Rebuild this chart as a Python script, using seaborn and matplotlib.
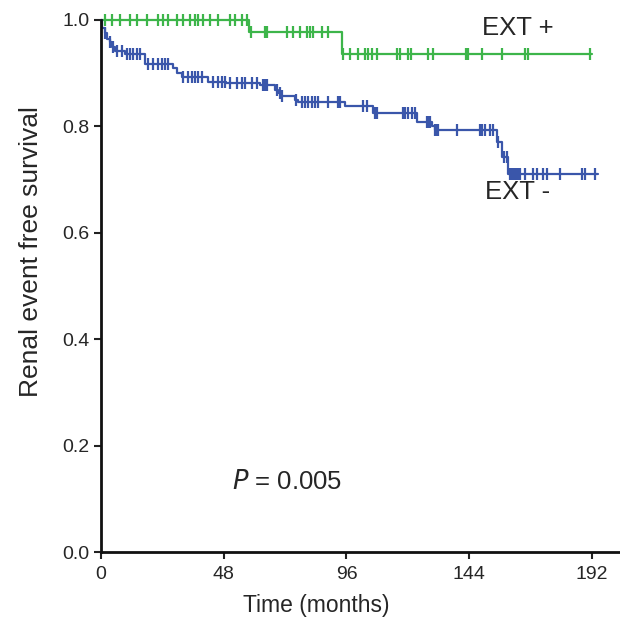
import numpy as np
import pandas as pd
import seaborn as sns
import matplotlib
matplotlib.use("Agg")
import matplotlib.pyplot as plt

# EXT + group: step changes (months, survival) and censored times
ext_pos_step_t = [0, 57.9, 94.1]
ext_pos_step_s = [1.0, 0.977, 0.937]
ext_pos_end = 192
ext_pos_censor = [1.6, 4.2, 7.4, 11.3, 14, 17.9, 22.3, 24.2, 26.2, 29.6, 32, 34.8,
                  36.8, 38, 39.9, 42.6, 45.7, 50.4, 52.4, 55.1, 57.1,
                  58.6, 64.1, 64.8, 72.6, 75.2, 77.8, 80.5, 81.7, 82.8, 86.3, 88.9,
                  94.8, 97.4, 100.6, 103.2, 104.5, 105.8, 107.8, 115.6, 116.9, 120.1,
                  121.1, 128, 129.9, 142.9, 143.6, 148.9, 156.7, 165.8, 167.1, 191.2]

# EXT - group
ext_neg_step_t = [0, 0.5, 1.5, 2.5, 3.5, 4.2, 5.5, 9.4, 17.2, 28.3, 29.6, 31.5, 42.0,
                  49.0, 62.2, 68.0, 69.3, 70.5, 75.9, 77.0, 95.4, 106.5, 123.5, 129.3,
                  130.5, 154.7, 156.7, 159.3]
ext_neg_step_s = [1.0, 0.985, 0.975, 0.965, 0.958, 0.950, 0.942, 0.937, 0.918, 0.910,
                  0.900, 0.893, 0.884, 0.881, 0.877, 0.868, 0.862, 0.858, 0.850, 0.846,
                  0.838, 0.825, 0.809, 0.800, 0.793, 0.771, 0.743, 0.710]
ext_neg_end = 194.5
ext_neg_censor = [1.6, 3.5, 4.8, 6.1, 8.1, 10, 11.3, 12.6, 14, 15.3, 18.5, 20.4, 22.4,
                  23.7, 25, 26.3, 32.2, 34.1, 35.5, 36.8, 38.1, 39.4, 43.9, 45.9, 47.2,
                  48.5, 50.4, 53.1, 55, 56.3, 58.9, 60.9, 63.5, 64.1, 64.8, 68.7, 70,
                  70.7, 76.3, 78.5, 79.8, 81.1, 82.4, 83.7, 85, 88.9, 92.8, 93.5, 102.6,
                  103.9, 107.2, 107.8, 118.2, 118.9, 120.2, 121.5, 122.8, 127.4, 128,
                  128.7, 130.6, 131.3, 131.9, 139.1, 148.2, 148.9, 150.2, 152.1, 153.4,
                  155.2, 157.5, 158.7, 160, 160.6, 161.3, 162, 162.6, 163.3, 163.9,
                  165.8, 169.1, 170.4, 173, 174.3, 179.5, 188, 189.3, 193.2]

x_ticks = [0, 48, 96, 144, 192]
y_ticks = [0.0, 0.2, 0.4, 0.6, 0.8, 1.0]

green = "#3DB54A"
blue = "#3A56AA"

sns.set_style("ticks")
plt.rcParams['font.family'] = ['Liberation Sans', 'DejaVu Sans']

fig = plt.figure(figsize=(6.2, 6.24), dpi=100)
ax = fig.add_axes([0.163, 0.115, 0.837, 0.853])


def curve_frame(step_t, step_s, end):
    t = list(step_t) + [end]
    s = list(step_s) + [step_s[-1]]
    return pd.DataFrame({"t": t, "s": s})


def censor_frame(step_t, step_s, times):
    idx = np.searchsorted(step_t, times, side="right") - 1
    return pd.DataFrame({"t": times, "s": np.asarray(step_s)[idx]})


for st, ss, end, cens, col in [
    (ext_pos_step_t, ext_pos_step_s, ext_pos_end, ext_pos_censor, green),
    (ext_neg_step_t, ext_neg_step_s, ext_neg_end, ext_neg_censor, blue),
]:
    sns.lineplot(data=curve_frame(st, ss, end), x="t", y="s", estimator=None,
                 sort=False, drawstyle="steps-post", color=col, linewidth=1.6,
                 ax=ax, clip_on=False)
    cf = censor_frame(st, ss, cens)
    ax.plot(cf["t"], cf["s"], linestyle="none", marker="|", markersize=9,
            markeredgewidth=1.6, color=col, clip_on=False)

ax.set_xlim(0, 203)
ax.set_ylim(0, 1.0)
ax.set_xticks(x_ticks)
ax.set_yticks(y_ticks)
ax.set_yticklabels([f"{v:.1f}" for v in y_ticks])
ax.tick_params(axis="both", labelsize=14, width=1.5, length=5, color="#222222")
ax.tick_params(axis="x", pad=5)
sns.despine(ax=ax)
for sp in ["left", "bottom"]:
    ax.spines[sp].set_linewidth(2.0)
    ax.spines[sp].set_color("#111111")

ax.set_xlabel("Time (months)", fontsize=16.5)
ax.set_ylabel("Renal event free survival", fontsize=19)
ax.xaxis.set_label_coords(0.414, -0.078)
ax.yaxis.set_label_coords(-0.112, 0.565)

ax.text(149, 0.985, "EXT +", fontsize=18.5, va="center", ha="left")
ax.text(150, 0.677, "EXT -", fontsize=18.5, va="center", ha="left")
ax.text(51.2, 0.132, r"$\mathit{P}$ = 0.005", fontsize=18.5, va="center", ha="left")

fig.savefig("out.png", dpi=100)
